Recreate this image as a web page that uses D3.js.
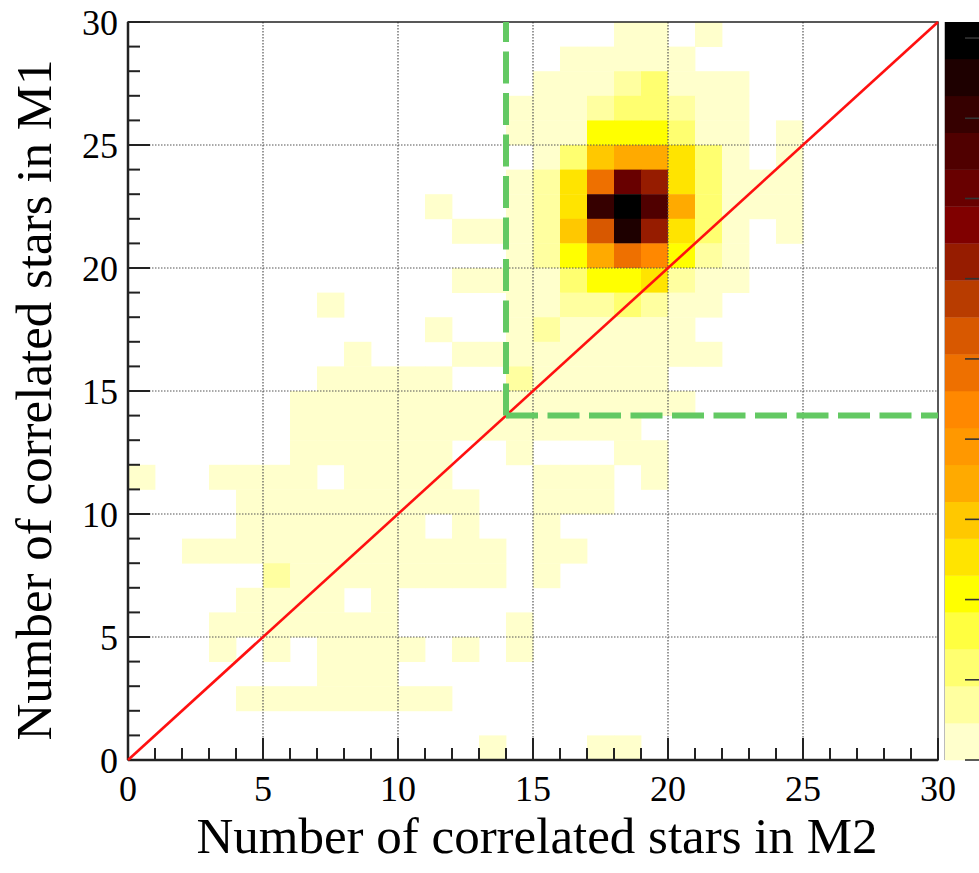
<!DOCTYPE html>
<html><head><meta charset="utf-8">
<script src="https://cdn.jsdelivr.net/npm/d3@7"></script>
<style>
body{margin:0;background:#fff;}
svg{display:block;}
text{font-family:"Liberation Serif","Times New Roman",serif;fill:#000;}
</style>
</head><body>
<svg id="chart" width="979" height="873"></svg>
<script>
// ---------------- data ----------------
const xTicks = [0, 5, 10, 15, 20, 25, 30];
const yTicks = [0, 5, 10, 15, 20, 25, 30];
const zTicks = [0, 5, 10, 15, 20, 25, 30, 35, 40, 45];
const xTitle = "Number of correlated stars in M2";
const yTitle = "Number of correlated stars in M1";
const palette = ["#ffffcc","#ffffa0","#ffff70","#ffff40","#ffff00","#ffe400","#ffc800","#ffaa00",
  "#ff9800","#ff8800","#ee7000","#d85800","#b83c00","#961c00","#800000","#680000",
  "#500000","#360000","#1e0000","#000000"];
const zMax = 46;
// rows listed from M1 = 29 (top) down to M1 = 0 (bottom); columns M2 = 0..29
const counts = [
 [0,0,0,0,0, 0,0,0,0,0, 0,0,0,0,0, 0,0,0,1,1, 0,1,0,0,0, 0,0,0,0,0], // 29
 [0,0,0,0,0, 0,0,0,0,0, 0,0,0,0,0, 0,1,1,1,1, 1,0,0,0,0, 0,0,0,0,0], // 28
 [0,0,0,0,0, 0,0,0,0,0, 0,0,0,0,0, 1,1,1,4,6, 1,1,1,0,0, 0,0,0,0,0], // 27
 [0,0,0,0,0, 0,0,0,0,0, 0,0,0,0,1, 1,1,4,6,6, 4,1,1,0,0, 0,0,0,0,0], // 26
 [0,0,0,0,0, 0,0,0,0,0, 0,0,0,0,1, 1,1,11,11,11, 6,1,1,0,1, 0,0,0,0,0], // 25
 [0,0,0,0,0, 0,0,0,0,0, 0,0,0,0,0, 1,6,15,17,17, 13,6,1,0,1, 0,0,0,0,0], // 24
 [0,0,0,0,0, 0,0,0,0,0, 0,0,0,0,1, 4,13,24,36,31, 13,6,1,1,1, 0,0,0,0,0], // 23
 [0,0,0,0,0, 0,0,0,0,0, 0,1,0,0,1, 4,13,40,46,38, 17,6,1,1,1, 0,0,0,0,0], // 22
 [0,0,0,0,0, 0,0,0,0,0, 0,0,1,1,1, 4,15,27,43,31, 13,6,1,0,1, 0,0,0,0,0], // 21
 [0,0,0,0,0, 0,0,0,0,0, 0,0,0,0,1, 4,11,17,24,22, 11,4,1,0,0, 0,0,0,0,0], // 20
 [0,0,0,0,0, 0,0,0,0,0, 0,0,1,1,1, 1,6,11,11,13, 4,1,1,0,0, 0,0,0,0,0], // 19
 [0,0,0,0,0, 0,0,1,0,0, 0,0,0,0,1, 1,4,4,6,4, 1,1,0,0,0, 0,0,0,0,0], // 18
 [0,0,0,0,0, 0,0,0,0,0, 0,1,0,0,1, 4,1,1,1,1, 1,0,0,0,0, 0,0,0,0,0], // 17
 [0,0,0,0,0, 0,0,0,1,0, 0,0,1,1,1, 1,1,1,1,1, 1,1,0,0,0, 0,0,0,0,0], // 16
 [0,0,0,0,0, 0,0,1,1,1, 1,1,0,0,4, 1,1,1,1,1, 0,0,0,0,0, 0,0,0,0,0], // 15
 [0,0,0,0,0, 0,1,1,1,1, 1,1,1,1,1, 1,1,1,1,1, 1,0,0,0,0, 0,0,0,0,0], // 14
 [0,0,0,0,0, 0,1,1,1,1, 1,1,1,1,1, 1,1,1,1,0, 0,0,0,0,0, 0,0,0,0,0], // 13
 [0,0,0,0,0, 0,1,1,1,1, 1,1,0,0,1, 0,0,0,1,1, 0,0,0,0,0, 0,0,0,0,0], // 12
 [1,0,0,1,1, 1,1,0,1,1, 1,1,0,0,0, 1,1,1,0,1, 0,0,0,0,0, 0,0,0,0,0], // 11
 [0,0,0,0,1, 1,1,1,1,1, 1,1,1,0,0, 1,1,1,0,0, 0,0,0,0,0, 0,0,0,0,0], // 10
 [0,0,0,0,1, 1,1,1,1,1, 1,0,1,0,0, 1,0,0,0,0, 0,0,0,0,0, 0,0,0,0,0], // 9
 [0,0,1,1,1, 1,1,1,1,1, 1,1,1,1,0, 1,1,0,0,0, 0,0,0,0,0, 0,0,0,0,0], // 8
 [0,0,0,0,0, 4,1,1,1,1, 1,1,1,1,0, 1,0,0,0,0, 0,0,0,0,0, 0,0,0,0,0], // 7
 [0,0,0,0,1, 1,1,1,0,1, 0,0,0,0,0, 0,0,0,0,0, 0,0,0,0,0, 0,0,0,0,0], // 6
 [0,0,0,1,1, 1,1,1,1,1, 0,0,0,0,1, 0,0,0,0,0, 0,0,0,0,0, 0,0,0,0,0], // 5
 [0,0,0,1,0, 1,0,1,1,1, 1,0,1,0,1, 0,0,0,0,0, 0,0,0,0,0, 0,0,0,0,0], // 4
 [0,0,0,0,0, 0,0,1,1,1, 0,0,0,0,0, 0,0,0,0,0, 0,0,0,0,0, 0,0,0,0,0], // 3
 [0,0,0,0,1, 1,1,1,1,1, 1,1,0,0,0, 0,0,0,0,0, 0,0,0,0,0, 0,0,0,0,0], // 2
 [0,0,0,0,0, 0,0,0,0,0, 0,0,0,0,0, 0,0,0,0,0, 0,0,0,0,0, 0,0,0,0,0], // 1
 [0,0,0,0,0, 0,0,0,0,0, 0,0,0,1,0, 0,0,1,1,0, 0,0,0,0,0, 0,0,0,0,0]  // 0
];
const diagonal = [[0, 0], [30, 30]];
const cutM2 = 14, cutM1 = 14;

// ---------------- layout ----------------
const svg = d3.select("#chart");
const L = 128, R = 938, T = 22, B = 760;
const x = d3.scaleLinear().domain([0, 30]).range([L, R]);
const y = d3.scaleLinear().domain([0, 30]).range([B, T]);
const color = d3.scaleQuantize().domain([0, zMax]).range(palette);

// bins
const cells = [];
counts.forEach((row, r) => {
  const m1 = 29 - r;
  row.forEach((v, m2) => { if (v > 0) cells.push({m2, m1, v}); });
});
svg.append("g").selectAll("rect").data(cells).join("rect")
  .attr("x", d => x(d.m2)).attr("y", d => y(d.m1 + 1))
  .attr("width", d => x(d.m2 + 1) - x(d.m2) + 0.4)
  .attr("height", d => y(d.m1) - y(d.m1 + 1) + 0.4)
  .attr("fill", d => color(d.v));

// grid
const grid = svg.append("g").attr("stroke", "#555").attr("stroke-width", 1.2)
  .attr("stroke-dasharray", "1.5,1.5");
grid.selectAll("line.v").data(xTicks.filter(t => t > 0 && t < 30)).join("line")
  .attr("x1", d => x(d)).attr("x2", d => x(d)).attr("y1", T).attr("y2", B);
grid.selectAll("line.h").data(yTicks.filter(t => t > 0 && t < 30)).join("line")
  .attr("class","h").attr("y1", d => y(d)).attr("y2", d => y(d)).attr("x1", L).attr("x2", R);

// axes
const xAxis = d3.axisTop(x).tickValues(d3.range(0, 31)).tickSize(0).tickFormat("");
const ax = svg.append("g").attr("transform", `translate(0,${B})`);
ax.selectAll("line").data(d3.range(0, 31)).join("line")
  .attr("x1", d => x(d)).attr("x2", d => x(d)).attr("y1", 0)
  .attr("y2", d => d % 5 === 0 ? -22 : -12)
  .attr("stroke", "#222").attr("stroke-width", 2);
ax.selectAll("text").data(xTicks).join("text")
  .attr("x", d => x(d)).attr("y", 41).attr("text-anchor", "middle")
  .attr("font-size", 36).text(d => d);
const ay = svg.append("g").attr("transform", `translate(${L},0)`);
ay.selectAll("line").data(d3.range(0, 31)).join("line")
  .attr("y1", d => y(d)).attr("y2", d => y(d)).attr("x1", 0)
  .attr("x2", d => d % 5 === 0 ? 22 : 12)
  .attr("stroke", "#222").attr("stroke-width", 2);
ay.selectAll("text").data(yTicks).join("text")
  .attr("x", -10).attr("y", d => y(d)).attr("dy", "0.36em").attr("text-anchor", "end")
  .attr("font-size", 36).text(d => d);

// frame
svg.append("rect").attr("x", L).attr("y", T).attr("width", R - L).attr("height", B - T)
  .attr("fill", "none").attr("stroke", "#222").attr("stroke-width", 1.5);
svg.append("line").attr("x1", L).attr("x2", R).attr("y1", B).attr("y2", B)
  .attr("stroke", "#222").attr("stroke-width", 2.5);
svg.append("line").attr("x1", L).attr("x2", L).attr("y1", T).attr("y2", B)
  .attr("stroke", "#222").attr("stroke-width", 2.5);

// overlays
svg.append("path").datum(diagonal)
  .attr("d", d3.line().x(d => x(d[0])).y(d => y(d[1])))
  .attr("stroke", "#ff1010").attr("stroke-width", 2.6).attr("fill", "none");
const green = svg.append("g").attr("stroke", "#63c963").attr("stroke-width", 6)
  .attr("stroke-dasharray", "32,9.5").attr("fill", "none");
green.append("line").attr("x1", x(cutM2)).attr("y1", y(cutM1)).attr("x2", x(cutM2)).attr("y2", y(30));
green.append("line").attr("x1", x(cutM2)).attr("y1", y(cutM1)).attr("x2", x(30)).attr("y2", y(cutM1));

// colour bar
const zy = d3.scaleLinear().domain([0, zMax]).range([B, T]);
const cb = svg.append("g");
const step = zMax / palette.length;
cb.selectAll("rect").data(palette).join("rect")
  .attr("x", 945).attr("width", 60)
  .attr("y", (c, i) => zy((i + 1) * step)).attr("height", (c, i) => zy(i * step) - zy((i + 1) * step) + 0.3)
  .attr("fill", c => c);
cb.append("line").attr("x1", 944.5).attr("x2", 944.5).attr("y1", T).attr("y2", B)
  .attr("stroke", "#bbb").attr("stroke-width", 1);
cb.selectAll("line.t").data(zTicks).join("line").attr("class", "t")
  .attr("x1", 965).attr("x2", 990).attr("y1", d => zy(d)).attr("y2", d => zy(d))
  .attr("stroke", "#333").attr("stroke-width", 1.6);

// titles
svg.append("text").attr("x", 537).attr("y", 853).attr("text-anchor", "middle")
  .attr("font-size", 51).text(xTitle);
svg.append("text").attr("transform", "translate(51,400) rotate(-90)").attr("text-anchor", "middle")
  .attr("font-size", 51).text(yTitle);
</script>
</body></html>
